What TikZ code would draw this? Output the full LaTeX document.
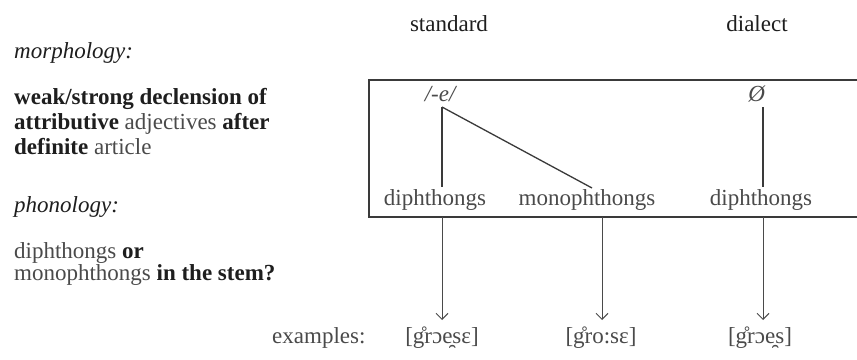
\documentclass[tikz,border=0pt]{standalone}
\usepackage{fontspec}
\setmainfont{Liberation Serif}
\usetikzlibrary{arrows.meta}
\definecolor{ink}{HTML}{1E1E1E}
\definecolor{soft}{HTML}{4A4A4A}
\definecolor{lin}{HTML}{3A3A3A}
\tikzset{
  lbl/.style={inner sep=0pt, anchor=base west, text=ink, font=\fontsize{23}{23}\selectfont},
  ctr/.style={inner sep=0pt, anchor=base, text=soft, font=\fontsize{23}{23}\selectfont},
  hd/.style={inner sep=0pt, anchor=base, text=ink, font=\fontsize{23}{23}\selectfont},
  conn/.style={draw=lin, line width=1.3pt},
  arr/.style={draw=soft, line width=1pt, -{Straight Barb[length=6pt,width=12pt,line width=1pt]}},
  frame/.style={draw=lin, line width=1.6pt}
}
\begin{document}
\begin{tikzpicture}[x=1pt,y=-1pt]
\useasboundingbox[fill=white] (0,0) rectangle (857,359);
% headers
\node[hd] (hstd) at (449,31) {standard};
\node[hd] (hdia) at (757,31) {dialect};
% left column
\node[lbl] (morph) at (14,58) {\textit{morphology:}};
\node[lbl] (m1) at (14,104) {\textbf{weak/strong declension of}};
\node[lbl] (m2) at (14,129) {\textbf{attributive} \textcolor{soft}{adjectives} \textbf{after}};
\node[lbl] (m3) at (14,154) {\textbf{definite} \textcolor{soft}{article}};
\node[lbl] (phon) at (14,212) {\textit{phonology:}};
\node[lbl] (p1) at (14,258) {\textcolor{soft}{diphthongs} \textbf{or}};
\node[lbl] (p2) at (14,280) {\textcolor{soft}{monophthongs} \textbf{in the stem?}};
% box
\draw[frame] (870,80) -- (369,80) -- (369,217) -- (870,217);
% inside box
\node[ctr] (e) at (441,101) {\textit{/-e/}};
\node[ctr] (null) at (757,101) {\textit{Ø}};
\node[ctr] (dl) at (435,205) {diphthongs};
\node[ctr] (mo) at (587,205) {monophthongs};
\node[ctr] (dr) at (761,205) {diphthongs};
\coordinate (ej) at (442,107);
\coordinate (nj) at (763,107);
\coordinate (dlt) at (442,187);
\coordinate (mot) at (592,188);
\coordinate (drt) at (763,187);
\draw[conn] (ej) -- (dlt);
\draw[conn] (ej) -- (mot);
\draw[conn] (nj) -- (drt);
% examples
\node[lbl, text=soft] (exl) at (272,343) {examples:};
\node[ctr] (ex1) at (442,343) {[g̊rɔe̯sɛ]};
\node[ctr] (ex2) at (601,343) {[g̊ro:sɛ]};
\node[ctr] (ex3) at (760,343) {[g̊rɔe̯s]};
\coordinate (b1) at (442,217);
\coordinate (b2) at (602,217);
\coordinate (b3) at (763,217);
\coordinate (t1) at (442,320);
\coordinate (t2) at (602,320);
\coordinate (t3) at (763,320);
\draw[arr] (b1) -- (t1);
\draw[arr] (b2) -- (t2);
\draw[arr] (b3) -- (t3);
\end{tikzpicture}
\end{document}
